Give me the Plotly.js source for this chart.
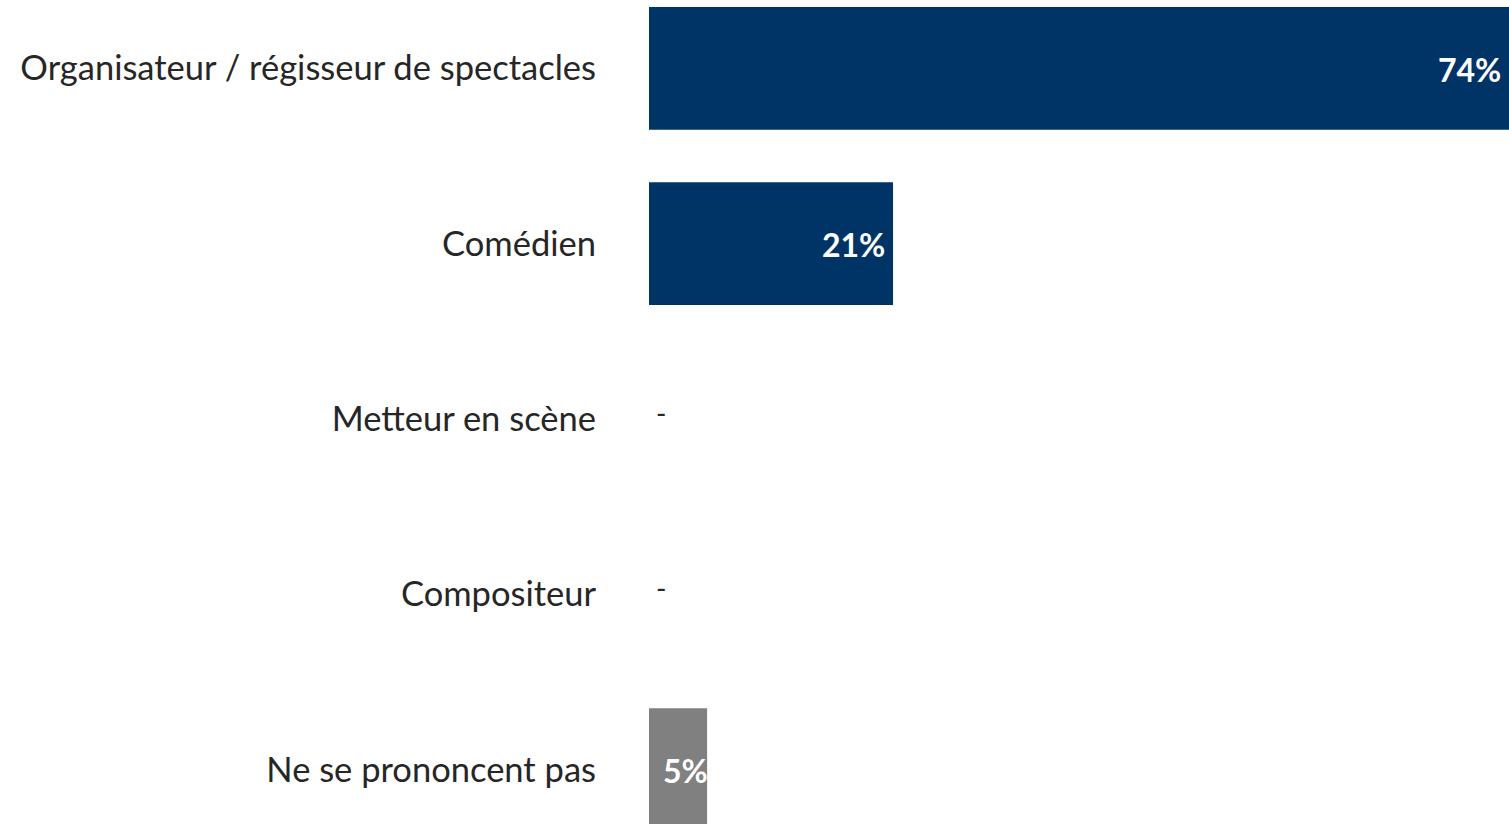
<!DOCTYPE html>
<html>
<head>
<meta charset="utf-8">
<script src="https://cdn.plot.ly/plotly-3.0.1.min.js"></script>
<style>html,body{margin:0;padding:0;background:#fff;}#chart{width:1509px;height:824px;}</style>
</head>
<body>
<div id="chart"></div>
<script>
var categories = ["Organisateur / régisseur de spectacles", "Comédien", "Metteur en scène", "Compositeur", "Ne se prononcent pas"];
var values = [74, 21, 0, 0, 5];
var labels = ["74%", "21%", "-", "-", "5%"];
var barColors = ["#003466", "#003466", "#003466", "#003466", "#808080"];

var annotations = categories.map(function (c, i) {
  var v = values[i];
  if (v === 0) {
    return {x: 0, y: c, xref: "x", yref: "y", text: labels[i], showarrow: false,
      xanchor: "left", xshift: 5, yshift: 6,
      font: {family: "Lato, 'Open Sans', sans-serif", size: 28, color: "#262626"}};
  }
  var small = v < 10;
  return {x: small ? 0 : v, y: c, xref: "x", yref: "y", text: labels[i], showarrow: false,
    xanchor: small ? "left" : "right", xshift: small ? 12 : -6, yshift: -1,
    font: {family: "Lato, 'Open Sans', sans-serif", size: 32, color: "#ffffff", weight: 700}};
});

var trace = {
  type: "bar",
  orientation: "h",
  x: values,
  y: categories,
  width: 0.7,
  marker: {color: barColors},
  hoverinfo: "none"
};

var layout = {
  width: 1509,
  height: 824,
  margin: {l: 649, r: 0, t: 0, b: 0, pad: 0},
  paper_bgcolor: "#ffffff",
  plot_bgcolor: "#ffffff",
  showlegend: false,
  xaxis: {range: [0, 74], visible: false, fixedrange: true},
  yaxis: {
    type: "category",
    range: [4.31, -0.39],
    showgrid: false, zeroline: false, showline: false, ticks: "",
    ticklabelstandoff: 52,
    tickfont: {family: "Lato, 'Open Sans', sans-serif", size: 34.5, color: "#262626"},
    fixedrange: true
  },
  annotations: annotations
};

Plotly.newPlot("chart", [trace], layout, {staticPlot: true, displayModeBar: false});
</script>
</body>
</html>
